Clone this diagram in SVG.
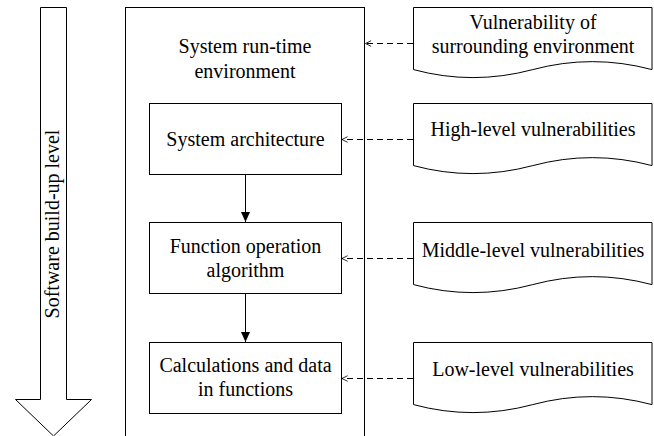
<svg xmlns="http://www.w3.org/2000/svg" width="654" height="436" viewBox="0 0 654 436">
<style>
.box{fill:#fff;stroke:#000;stroke-width:1}
.t{font-family:"Liberation Serif","Times New Roman",serif;font-size:20px;fill:#000;text-anchor:middle}
.dash{fill:none;stroke:#000;stroke-width:1;stroke-dasharray:6 4}
.solid{fill:none;stroke:#000;stroke-width:1}
</style>
<defs>
<marker id="open" viewBox="0 0 10 10" refX="9" refY="5" markerWidth="7" markerHeight="8" markerUnits="userSpaceOnUse" orient="auto">
<path d="M1,1 L9,5 L1,9" fill="none" stroke="#000" stroke-width="1.2"/>
</marker>
<marker id="filled" viewBox="0 0 10 10" refX="10" refY="5" markerWidth="10" markerHeight="10" markerUnits="userSpaceOnUse" orient="auto">
<path d="M0,0.5 L10,5 L0,9.5 Z" fill="#000"/>
</marker>
</defs>
<g id="levelArrow">
<path class="box" d="M40.5,7.5 H66.5 V399.5 H91.5 L53.5,436 L15.5,399.5 H40.5 Z"/>
<text class="t" transform="translate(59,224) rotate(-90)">Software build-up level</text>
</g>
<g id="runtime">
<rect class="box" x="125.5" y="7.5" width="239" height="440"/>
<text class="t" x="245" y="53">System run-time</text>
<text class="t" x="245" y="78">environment</text>
</g>
<g id="arch">
<rect class="box" x="149.5" y="103.5" width="192" height="71"/>
<text class="t" x="245.5" y="146">System architecture</text>
</g>
<g id="func">
<rect class="box" x="149.5" y="222.5" width="192" height="71"/>
<text class="t" x="245.5" y="253">Function operation</text>
<text class="t" x="245.5" y="277">algorithm</text>
</g>
<g id="calc">
<rect class="box" x="149.5" y="342.5" width="192" height="71"/>
<text class="t" x="245.5" y="372">Calculations and data</text>
<text class="t" x="245.5" y="396">in functions</text>
</g>
<g id="docEnv">
<path class="box" d="M413.5,7.5 H652 V69.6 Q592.25,53.65 532.75,69.6 Q472.75,85.6 413.5,69.6 Z"/>
<text class="t" x="533" y="29">Vulnerability of</text>
<text class="t" x="533" y="53">surrounding environment</text>
</g>
<g id="docHigh">
<path class="box" d="M413.5,103.5 H652 V165.6 Q592.25,149.65 532.75,165.6 Q472.75,181.6 413.5,165.6 Z"/>
<text class="t" x="533" y="136">High-level vulnerabilities</text>
</g>
<g id="docMid">
<path class="box" d="M413.5,222.5 H652 V284.6 Q592.25,268.65 532.75,284.6 Q472.75,300.6 413.5,284.6 Z"/>
<text class="t" x="533" y="257">Middle-level vulnerabilities</text>
</g>
<g id="docLow">
<path class="box" d="M413.5,342.5 H652 V404.6 Q592.25,388.65 532.75,404.6 Q472.75,420.6 413.5,404.6 Z"/>
<text class="t" x="533" y="376">Low-level vulnerabilities</text>
</g>
<g id="connectors">
<line class="solid" x1="245.5" y1="174.5" x2="245.5" y2="222" marker-end="url(#filled)"/>
<line class="solid" x1="245.5" y1="293.5" x2="245.5" y2="342" marker-end="url(#filled)"/>
<line class="dash" x1="413" y1="43.5" x2="365.5" y2="43.5" marker-end="url(#open)"/>
<line class="dash" x1="413" y1="139.5" x2="342" y2="139.5" marker-end="url(#open)"/>
<line class="dash" x1="413" y1="258.5" x2="342" y2="258.5" marker-end="url(#open)"/>
<line class="dash" x1="413" y1="378.5" x2="342" y2="378.5" marker-end="url(#open)"/>
</g>
</svg>
